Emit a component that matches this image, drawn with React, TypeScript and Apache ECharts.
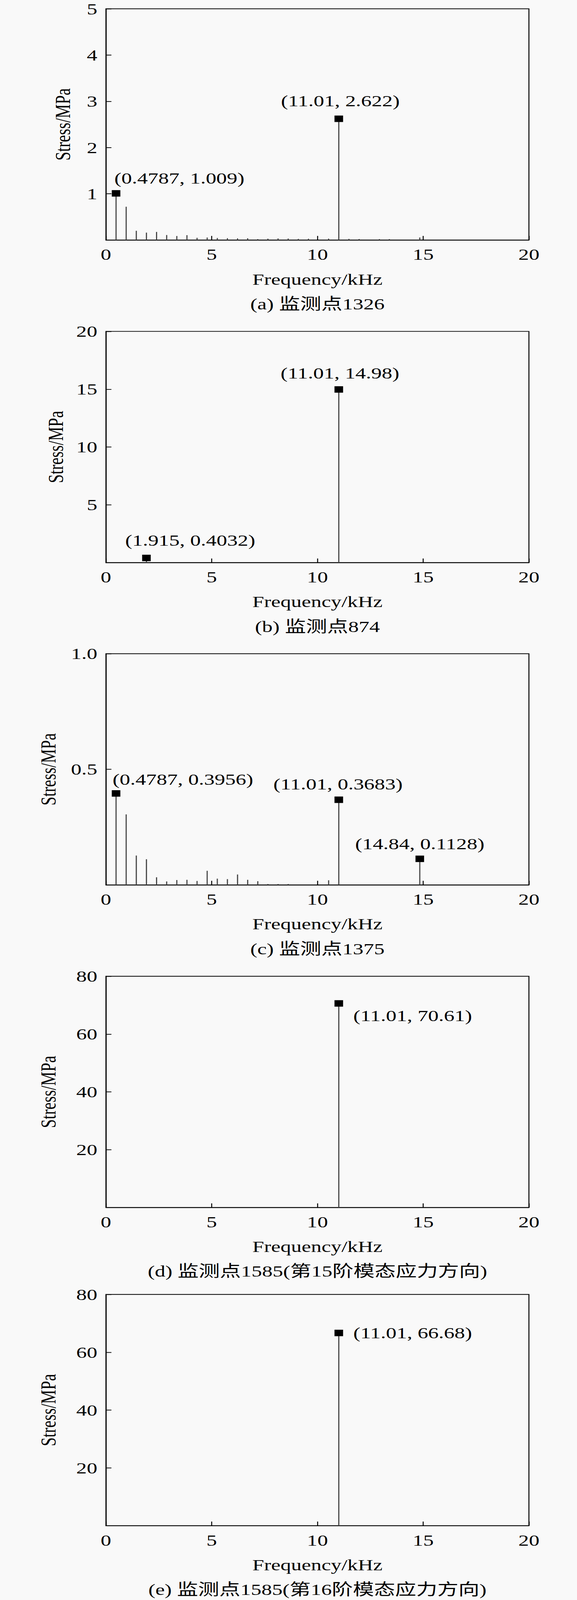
import React, { useEffect, useRef } from "react";
import * as echarts from "echarts";

// ---------- data ----------
const freqA = [0.4787, 0.9574, 1.436, 1.915, 2.394, 2.872, 3.351, 3.830, 4.308, 4.787, 5.266, 5.744, 6.223, 6.702, 7.180, 7.659, 8.138, 8.617, 9.095, 9.574, 10.53, 11.01, 11.49, 11.97, 12.93, 13.40, 14.84];
const stressA = [1.009, 0.72, 0.20, 0.16, 0.175, 0.108, 0.087, 0.105, 0.048, 0.054, 0.044, 0.040, 0.036, 0.038, 0.020, 0.029, 0.034, 0.032, 0.025, 0.028, 0.030, 2.622, 0.025, 0.022, 0.020, 0.020, 0.055];
const peakFreqA = [0.4787, 11.01];
const peakStressA = [1.009, 2.622];

const freqB = [1.915, 11.01];
const stressB = [0.4032, 14.98];
const peakFreqB = [1.915, 11.01];
const peakStressB = [0.4032, 14.98];

const freqC = [0.4787, 0.9574, 1.436, 1.915, 2.394, 2.872, 3.351, 3.830, 4.308, 4.787, 5.266, 5.744, 6.223, 6.702, 7.180, 7.659, 8.138, 8.617, 10.53, 11.01, 14.84];
const stressC = [0.3956, 0.305, 0.127, 0.111, 0.033, 0.015, 0.021, 0.022, 0.017, 0.061, 0.027, 0.025, 0.045, 0.022, 0.016, 0.004, 0.004, 0.004, 0.020, 0.3683, 0.1128];
const peakFreqC = [0.4787, 11.01, 14.84];
const peakStressC = [0.3956, 0.3683, 0.1128];

const freqD = [11.01];
const stressD = [70.61];
const peakFreqD = [11.01];
const peakStressD = [70.61];

const freqE = [11.01];
const stressE = [66.68];
const peakFreqE = [11.01];
const peakStressE = [66.68];

const xTicks = { min: 0, max: 20, interval: 5 };
const yRanges = [
  { max: 5, interval: 1, decimals: 0 },
  { max: 20, interval: 5, decimals: 0 },
  { max: 1.0, interval: 0.5, decimals: 1 },
  { max: 80, interval: 20, decimals: 0 },
  { max: 80, interval: 20, decimals: 0 },
];
const captions = [
  "(a) 监测点1326",
  "(b) 监测点874",
  "(c) 监测点1375",
  "(d) 监测点1585(第15阶模态应力方向)",
  "(e) 监测点1585(第16阶模态应力方向)",
];
const xTitle = "Frequency/kHz";
const yTitle = "Stress/MPa";

// ---------- layout (positions / styles), in reference pixels ----------
const W = 1476;
const H = 5446;
const GRID_LEFT = 271;
const GRID_W = 1082;
const GRID_H = 787;
const GRID_TOP_IN_PANEL = 30;
const PANEL_H = 1096;
const gridTops = [30, 1128, 2225, 3323, 4406];
const yNameGaps = [84, 102, 121, 121, 121];
const labelOffsets = [
  [[162, -52], [4, -61]],
  [[112, -60], [3, -56]],
  [[171, -48], [-2, -54], [0, -51]],
  [[189, 41]],
  [[189, 0]],
];
const FONT = '"Liberation Serif", "Times New Roman", "Noto Sans CJK SC", serif';
const FS = 54;
const BG = "#f9f9f9";

const panels = [
  { freq: freqA, stress: stressA, pf: peakFreqA, ps: peakStressA },
  { freq: freqB, stress: stressB, pf: peakFreqB, ps: peakStressB },
  { freq: freqC, stress: stressC, pf: peakFreqC, ps: peakStressC },
  { freq: freqD, stress: stressD, pf: peakFreqD, ps: peakStressD },
  { freq: freqE, stress: stressE, pf: peakFreqE, ps: peakStressE },
];

function buildOption(i: number) {
  const p = panels[i];
  const yr = yRanges[i];
  const textStyle = { color: "#000", fontFamily: FONT, fontSize: FS };
  return {
    animation: false,
    backgroundColor: BG,
    grid: {
      left: GRID_LEFT,
      top: GRID_TOP_IN_PANEL,
      width: GRID_W,
      height: GRID_H,
      show: true,
      borderColor: "#000",
      borderWidth: 2.5,
      backgroundColor: "transparent",
      containLabel: false,
    },
    xAxis: {
      type: "value",
      min: xTicks.min,
      max: xTicks.max,
      interval: xTicks.interval,
      axisLine: { show: true, onZero: false, lineStyle: { color: "#000", width: 2.5 } },
      axisTick: { show: true, inside: true, length: 14, lineStyle: { color: "#000", width: 2.5 } },
      axisLabel: { margin: 22, ...textStyle },
      splitLine: { show: false },
      name: xTitle,
      nameLocation: "middle",
      nameGap: 106,
      nameTextStyle: textStyle,
    },
    yAxis: {
      type: "value",
      min: 0,
      max: yr.max,
      interval: yr.interval,
      axisLine: { show: true, lineStyle: { color: "#000", width: 2.5 } },
      axisTick: { show: true, inside: true, length: 14, lineStyle: { color: "#000", width: 2.5 } },
      axisLabel: {
        margin: 22,
        showMinLabel: false,
        formatter: (v: number) => (v === 0 ? "" : v.toFixed(yr.decimals)),
        ...textStyle,
      },
      splitLine: { show: false },
      name: yTitle,
      nameLocation: "middle",
      nameGap: yNameGaps[i],
      nameTextStyle: textStyle,
    },
    series: [
      {
        type: "custom",
        data: p.freq.map((f, k) => [f, p.stress[k]]),
        encode: { x: 0, y: 1 },
        z: 2,
        renderItem: (params: any, api: any) => {
          const b = api.coord([api.value(0), 0]);
          const t = api.coord([api.value(0), api.value(1)]);
          return {
            type: "line",
            shape: { x1: b[0], y1: b[1], x2: t[0], y2: t[1] },
            style: { stroke: "#4a4a4a", lineWidth: 3 },
          };
        },
      },
      {
        type: "scatter",
        symbol: "rect",
        symbolSize: 22,
        z: 3,
        itemStyle: { color: "#000", opacity: 1 },
        data: p.pf.map((f, k) => ({
          value: [f, p.ps[k]],
          label: {
            show: true,
            position: "inside",
            offset: labelOffsets[i][k],
            formatter: `(${f}, ${p.ps[k]})`,
            ...textStyle,
          },
        })),
      },
    ],
    graphic: [
      {
        type: "text",
        x: GRID_LEFT + GRID_W / 2,
        y: GRID_TOP_IN_PANEL + GRID_H + 217,
        style: {
          text: captions[i],
          fill: "#000",
          font: `${FS}px ${FONT}`,
          align: "center",
          verticalAlign: "middle",
        },
      },
    ],
  };
}

function Panel({ index }: { index: number }) {
  const ref = useRef<HTMLDivElement>(null);
  const top = gridTops[index] - GRID_TOP_IN_PANEL;
  const height = Math.min(PANEL_H, H - top);
  useEffect(() => {
    if (!ref.current) return;
    const chart = echarts.init(ref.current, undefined, { renderer: "svg" });
    chart.setOption(buildOption(index) as any);
    return () => chart.dispose();
  }, [index]);
  return (
    <div
      ref={ref}
      style={{ position: "absolute", left: 0, top, width: W, height, background: BG }}
    />
  );
}

export default function App() {
  // The browser viewport may be shorter than the reference; fit the full figure vertically.
  const viewH = typeof window !== "undefined" ? window.innerHeight : H;
  const sy = Math.min(1, viewH / H);
  return (
    <div
      style={{
        position: "absolute",
        left: 0,
        top: 0,
        width: W,
        height: H,
        background: BG,
        transform: `scaleY(${sy})`,
        transformOrigin: "0 0",
      }}
    >
      {panels.map((_, i) => (
        <Panel key={i} index={i} />
      ))}
    </div>
  );
}
